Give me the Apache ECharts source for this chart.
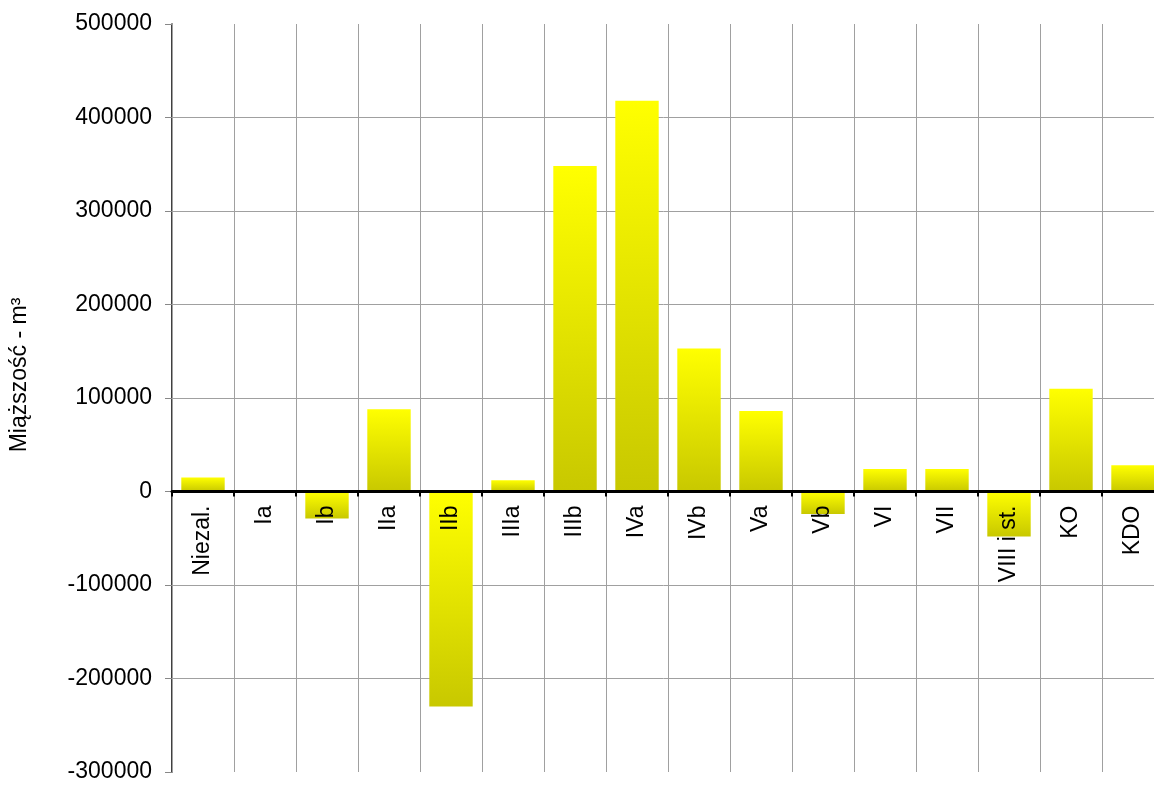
<!DOCTYPE html>
<html>
<head>
<meta charset="utf-8">
<script src="https://cdn.jsdelivr.net/npm/echarts@6/dist/echarts.min.js"></script>
<style>
html,body{margin:0;padding:0;background:#fff;}
#chart{width:1154px;height:785px;}
</style>
</head>
<body>
<div id="chart"></div>
<script>
var categories = ['Niezal.', 'Ia', 'Ib', 'IIa', 'IIb', 'IIIa', 'IIIb', 'IVa', 'IVb', 'Va', 'Vb', 'VI', 'VII', 'VIII i st.', 'KO', 'KDO'];
var values = [15000, 0, -29000, 88000, -230000, 12000, 348000, 418000, 153000, 86000, -24000, 24000, 24000, -48000, 110000, 28000];
var yTicks = { min: -300000, max: 500000, interval: 100000 };
var yName = 'Miąższość - m³';

var FONT = 'Liberation Sans, Arial, sans-serif';
var FS = 23;
var GRID_TOP = 24, GRID_BOTTOM = 13, H = 785;
var plotH = H - GRID_TOP - GRID_BOTTOM;
// place the category axis (line, ticks, labels) on the zero value
var zeroOffset = -plotH * (0 - yTicks.min) / (yTicks.max - yTicks.min);

function grad() {
  return new echarts.graphic.LinearGradient(0, 0, 0, 1, [
    { offset: 0, color: '#ffff00' },
    { offset: 1, color: '#c8c800' }
  ]);
}
var data = values.map(function (v) {
  return { value: v, itemStyle: { color: grad() } };
});

var chart = echarts.init(document.getElementById('chart'));
chart.setOption({
  backgroundColor: '#ffffff',
  animation: false,
  grid: { left: 172, right: -10, top: GRID_TOP, bottom: GRID_BOTTOM, containLabel: false, outerBoundsMode: 'none' },
  xAxis: {
    type: 'category',
    data: categories,
    position: 'bottom',
    offset: zeroOffset,
    z: 5,
    axisLine: { show: true, onZero: false, lineStyle: { color: '#000', width: 3 } },
    axisTick: { show: true, length: 5, lineStyle: { color: '#000', width: 2 } },
    axisLabel: { rotate: 90, margin: 14, fontSize: FS, color: '#000', fontFamily: FONT, interval: 0 },
    splitLine: { show: true, interval: 0, lineStyle: { color: '#a0a0a0', width: 1 } }
  },
  yAxis: {
    type: 'value',
    min: yTicks.min, max: yTicks.max, interval: yTicks.interval,
    name: yName,
    nameLocation: 'middle',
    nameGap: 141,
    nameTextStyle: { fontSize: FS, color: '#000', fontFamily: FONT, padding: [0, 0, 0, 46] },
    axisLine: { show: true, onZero: false, lineStyle: { color: '#000', width: 1.5 } },
    axisTick: { show: true, length: 7, lineStyle: { color: '#888', width: 1 } },
    axisLabel: { margin: 20, fontSize: FS, color: '#000', fontFamily: FONT, formatter: function (v) { return String(v); } },
    splitLine: { show: true, showMinLine: false, showMaxLine: false, lineStyle: { color: '#a0a0a0', width: 1 } }
  },
  series: [{
    type: 'bar',
    data: data,
    barCategoryGap: '30%',
    itemStyle: { borderWidth: 0 }
  }]
});
</script>
</body>
</html>
